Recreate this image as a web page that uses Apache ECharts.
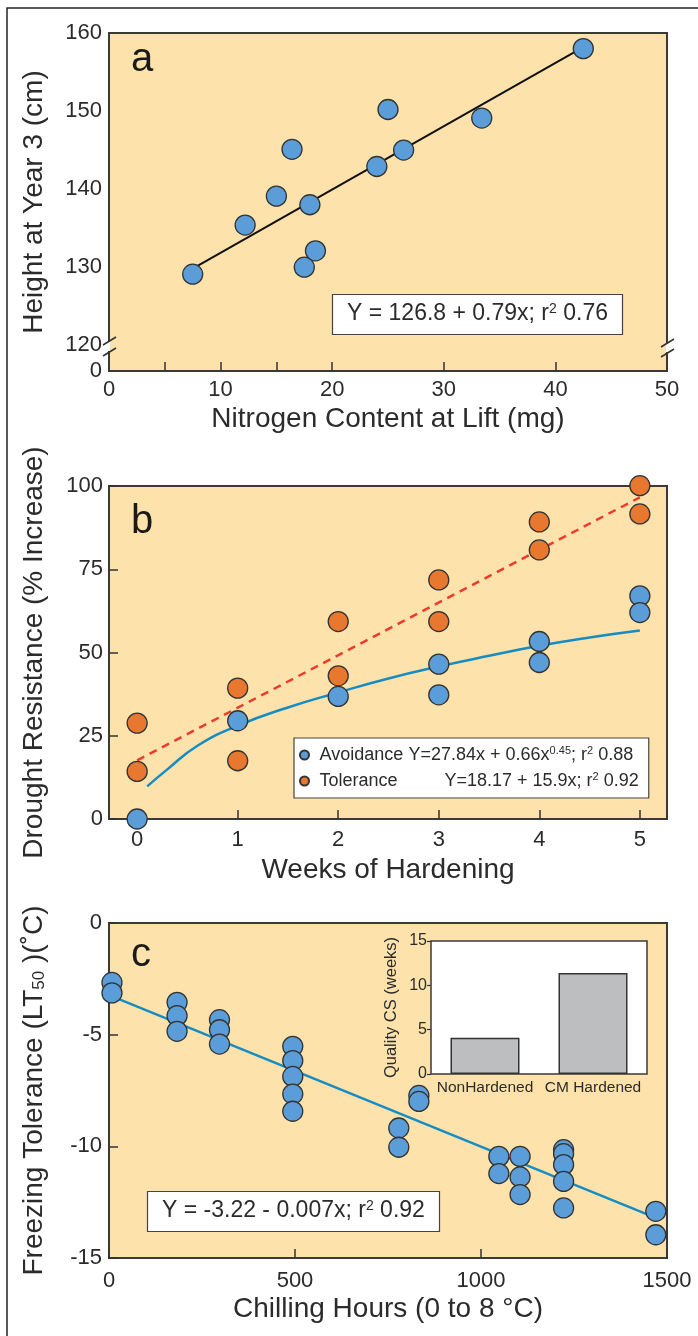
<!DOCTYPE html>
<html>
<head>
<meta charset="utf-8">
<script src="https://cdn.jsdelivr.net/npm/echarts@6/dist/echarts.min.js"></script>
<style>
  html, body { margin: 0; padding: 0; background: #fff; }
  #main { width: 698px; height: 1336px; }
</style>
</head>
<body>
<div id="main"></div>
<script>
// panel a: nitrogen vs height
const aNitrogen = [7.5, 12.2, 15.0, 16.4, 18.0, 17.5, 18.5, 24.0, 25.0, 26.4, 33.4, 42.5];
const aHeight = [129.1, 135.4, 139.1, 145.1, 138.0, 130.0, 132.1, 142.9, 150.2, 145.0, 149.1, 158.0];
const aFitX = [7.5, 42.5];
const aFitY = [129.8, 158.2];
const aYTicks = [116.7, 120, 130, 140, 150, 160];
const aXMinorTicks = [5, 10, 15, 20, 30, 40];

// panel b: weeks of hardening
const bTolWeeks = [0, 0, 1, 1, 2, 2, 3, 3, 4, 4, 5, 5];
const bTol = [28.8, 14.3, 39.3, 17.5, 59.3, 43.0, 71.8, 59.3, 89.2, 80.8, 100.1, 91.6];
const bAvoidWeeks = [0, 1, 2, 3, 3, 4, 4, 5, 5];
const bAvoid = [0, 29.5, 36.8, 46.5, 37.3, 53.3, 47.0, 67.0, 62.0];
const bTolFitX = [0, 5];
const bTolFitY = [17.6, 96.6];
const bAvoidFitX = [0.1, 0.3, 0.6, 1, 1.5, 2, 2.5, 3, 3.5, 4, 4.5, 5];
const bAvoidFitY = [9.8, 14.9, 22.0, 28.0, 33.5, 38.0, 42.2, 45.8, 49.0, 52.0, 54.5, 56.6];
const bWeekTicks = [0, 1, 2, 3, 4, 5];

// panel c: chilling hours vs LT50
const cHours = [8, 8, 183, 183, 183, 297, 297, 297, 494, 494, 494, 494, 494, 833, 833, 779, 779,
  1048, 1048, 1105, 1105, 1105, 1222, 1222, 1222, 1222, 1222, 1470, 1470];
const cLT50 = [-2.66, -3.13, -3.55, -4.15, -4.85, -4.33, -4.78, -5.42, -5.52, -6.16, -6.87, -7.66, -8.43,
  -7.72, -7.99, -9.18, -10.04, -10.45, -11.22, -10.45, -11.37, -12.16, -10.15, -10.33, -10.82, -11.57,
  -12.76, -12.91, -13.96];
const cFitX = [10, 1470];
const cFitY = [-3.3, -13.2];

// inset
const insetCats = ['NonHardened', 'CM Hardened'];
const insetWeeks = [4.1, 11.4];

const zip = (xs, ys) => xs.map((x, i) => [x, ys[i]]);

const BG = '#FDE3AB';
const BLUE = '#5B9DD8';
const ORANGE = '#E8772F';
const TEAL = '#178CC3';
const INK = '#2b2b2b';
const FONT = '"Liberation Sans", Arial, sans-serif';

const chart = echarts.init(document.getElementById('main'));

const plain = v => String(v);
const tickLabel = { fontSize: 22, color: INK, fontFamily: FONT, formatter: plain };
const nameStyle = { fontSize: 28, color: INK, fontFamily: FONT };
const noLine = { show: false, onZero: false };
const eqRich = {
  t: { fontSize: 23, fontWeight: 'normal', color: INK, fontFamily: FONT, lineHeight: 24 },
  s: { fontSize: 14, fontWeight: 'normal', color: INK, fontFamily: FONT, verticalAlign: 'top', lineHeight: 24 }
};
const letterStyle = { fontSize: 40, fontWeight: 'normal', color: '#1a1a1a', fontFamily: FONT };

function panelGrid(top, height) {
  return {
    left: 109, top: top, width: 558, height: height,
    show: true, backgroundColor: BG, borderColor: '#3a3a3a', borderWidth: 2,
    outerBoundsMode: 'none', containLabel: false
  };
}

chart.setOption({
  animation: false,
  textStyle: { fontFamily: FONT },
  grid: [
    panelGrid(33, 338),
    panelGrid(486, 333),
    panelGrid(923, 335),
    {
      left: 431, top: 941, width: 216, height: 133, z: 1,
      show: true, backgroundColor: '#fff', borderColor: '#3a3a3a', borderWidth: 1.5,
      outerBoundsMode: 'none', containLabel: false
    }
  ],
  title: [
    { text: 'a', left: 131, top: 40, padding: 0, textStyle: letterStyle },
    { text: 'b', left: 131, top: 502, padding: 0, textStyle: letterStyle },
    { text: 'c', left: 131, top: 935, padding: 0, textStyle: letterStyle },
    {
      text: '{t|Y = 126.8 + 0.79x; r}{s|2}{t| 0.76}',
      left: 332, top: 294, padding: [8, 15, 9, 15],
      backgroundColor: '#fff', borderColor: '#444', borderWidth: 1.2,
      textStyle: { fontWeight: 'normal', rich: eqRich }
    },
    {
      text: '{t|Y = -3.22 - 0.007x; r}{s|2}{t| 0.92}',
      left: 147, top: 1191, padding: [8, 15, 9, 15],
      backgroundColor: '#fff', borderColor: '#444', borderWidth: 1.2,
      textStyle: { fontWeight: 'normal', rich: eqRich }
    }
  ],
  legend: {
    data: ['Avoidance', 'Tolerance'],
    orient: 'vertical',
    left: 294, top: 738,
    icon: 'circle',
    itemWidth: 20, itemHeight: 9, itemGap: 6,
    padding: [7, 10, 7, 5],
    backgroundColor: '#fff', borderColor: '#444', borderWidth: 1.2, borderRadius: 0,
    selectedMode: false,
    formatter: function (name) {
      if (name === 'Avoidance') {
        return '{n1|Avoidance}{e|Y=27.84x + 0.66x}{s|0.45}{e|; r}{s|2}{e| 0.88}';
      }
      return '{n2|Tolerance}{e|Y=18.17 + 15.9x; r}{s|2}{e| 0.92}';
    },
    textStyle: {
      fontSize: 18, color: INK, lineHeight: 20,
      rich: {
        n1: { fontSize: 18, color: INK, width: 89, lineHeight: 20 },
        n2: { fontSize: 18, color: INK, width: 125, lineHeight: 20 },
        e: { fontSize: 18, color: INK, lineHeight: 20 },
        s: { fontSize: 11, color: INK, verticalAlign: 'top', lineHeight: 20 }
      }
    }
  },
  xAxis: [
    {
      gridIndex: 0, type: 'value', min: 0, max: 50, interval: 10,
      axisLine: noLine, splitLine: { show: false },
      axisTick: { show: true, inside: true, length: 9, customValues: aXMinorTicks, lineStyle: { color: '#333', width: 1.5 } },
      axisLabel: Object.assign({}, tickLabel, { margin: 8 }),
      name: 'Nitrogen Content at Lift (mg)', nameLocation: 'middle', nameGap: 34, nameTextStyle: nameStyle
    },
    {
      gridIndex: 1, type: 'value', min: -0.28, max: 5.27,
      axisLine: noLine, splitLine: { show: false },
      axisTick: { show: true, inside: true, length: 9, customValues: bWeekTicks, lineStyle: { color: '#333', width: 1.5 } },
      axisLabel: Object.assign({}, tickLabel, { margin: 10, customValues: bWeekTicks }),
      name: 'Weeks of Hardening', nameLocation: 'middle', nameGap: 37, nameTextStyle: nameStyle
    },
    {
      gridIndex: 2, type: 'value', min: 0, max: 1500, interval: 500,
      axisLine: noLine, splitLine: { show: false },
      axisTick: { show: true, inside: true, length: 9, lineStyle: { color: '#333', width: 1.5 } },
      axisLabel: Object.assign({}, tickLabel, { margin: 12 }),
      name: 'Chilling Hours (0 to 8 °C)', nameLocation: 'middle', nameGap: 37, nameTextStyle: nameStyle
    },
    {
      gridIndex: 3, type: 'category', data: insetCats,
      axisLine: noLine, axisTick: { show: false }, splitLine: { show: false },
      axisLabel: { fontSize: 15.5, color: INK, margin: 6, interval: 0, fontFamily: FONT }
    }
  ],
  yAxis: [
    {
      gridIndex: 0, type: 'value', min: 116.7, max: 160,
      axisLine: noLine, splitLine: { show: false }, axisTick: { show: false },
      axisLabel: Object.assign({}, tickLabel, {
        margin: 7, customValues: aYTicks,
        formatter: function (v) { return v < 119 ? '0' : String(Math.round(v)); }
      }),
      name: 'Height at Year 3 (cm)', nameLocation: 'middle', nameGap: 61, nameTextStyle: nameStyle
    },
    {
      gridIndex: 1, type: 'value', min: 0, max: 100, interval: 25,
      axisLine: noLine, splitLine: { show: false },
      axisTick: { show: true, inside: true, length: 9, lineStyle: { color: '#333', width: 1.5 } },
      axisLabel: Object.assign({}, tickLabel, { margin: 6 }),
      name: 'Drought Resistance (% Increase)', nameLocation: 'middle', nameGap: 61, nameTextStyle: nameStyle
    },
    {
      gridIndex: 2, type: 'value', min: -15, max: 0, interval: 5,
      axisLine: noLine, splitLine: { show: false },
      axisTick: { show: true, inside: true, length: 9, lineStyle: { color: '#333', width: 1.5 } },
      axisLabel: Object.assign({}, tickLabel, { margin: 7 }),
      name: 'Freezing Tolerance (LT{sub|50} )(˚C)', nameLocation: 'middle', nameGap: 61,
      nameTextStyle: Object.assign({
        rich: { sub: { fontSize: 17, color: INK, fontFamily: FONT, verticalAlign: 'bottom', padding: [8, 0, 0, 0] } }
      }, nameStyle)
    },
    {
      gridIndex: 3, type: 'value', min: 0, max: 15, interval: 5,
      axisLine: noLine, splitLine: { show: false },
      axisTick: { show: true, inside: false, length: 4, lineStyle: { color: '#333', width: 1.2 } },
      axisLabel: { fontSize: 16, color: INK, margin: 4, fontFamily: FONT },
      name: 'Quality CS (weeks)', nameLocation: 'middle', nameGap: 31,
      nameTextStyle: { fontSize: 16.5, color: INK, fontFamily: FONT }
    }
  ],
  series: [
    {
      name: 'a fit', type: 'line', xAxisIndex: 0, yAxisIndex: 0, data: zip(aFitX, aFitY),
      showSymbol: false, lineStyle: { color: '#111', width: 2 }, z: 2, silent: true
    },
    {
      name: 'Height', type: 'scatter', xAxisIndex: 0, yAxisIndex: 0, data: zip(aNitrogen, aHeight),
      symbolSize: 20, clip: false, z: 3,
      itemStyle: { color: BLUE, borderColor: '#333', borderWidth: 1.3, opacity: 1 }
    },
    {
      name: 'Tolerance fit', type: 'line', xAxisIndex: 1, yAxisIndex: 1, data: zip(bTolFitX, bTolFitY),
      showSymbol: false, lineStyle: { color: '#EE3A2C', width: 2.5, type: [8, 6] }, z: 2, silent: true
    },
    {
      name: 'Avoidance fit', type: 'line', xAxisIndex: 1, yAxisIndex: 1, data: zip(bAvoidFitX, bAvoidFitY),
      showSymbol: false, smooth: true, lineStyle: { color: TEAL, width: 2.5 }, z: 2, silent: true
    },
    {
      name: 'Tolerance', type: 'scatter', xAxisIndex: 1, yAxisIndex: 1, data: zip(bTolWeeks, bTol),
      symbolSize: 20, clip: false, z: 3,
      itemStyle: { color: ORANGE, borderColor: '#333', borderWidth: 1.3, opacity: 1 }
    },
    {
      name: 'Avoidance', type: 'scatter', xAxisIndex: 1, yAxisIndex: 1, data: zip(bAvoidWeeks, bAvoid),
      symbolSize: 20, clip: false, z: 3,
      itemStyle: { color: BLUE, borderColor: '#333', borderWidth: 1.3, opacity: 1 }
    },
    {
      name: 'c fit', type: 'line', xAxisIndex: 2, yAxisIndex: 2, data: zip(cFitX, cFitY),
      showSymbol: false, lineStyle: { color: TEAL, width: 2.5 }, z: 2, silent: true
    },
    {
      name: 'LT50', type: 'scatter', xAxisIndex: 2, yAxisIndex: 2, data: zip(cHours, cLT50),
      symbolSize: 20, clip: false, z: 3,
      itemStyle: { color: BLUE, borderColor: '#333', borderWidth: 1.3, opacity: 1 }
    },
    {
      name: 'Quality CS', type: 'bar', xAxisIndex: 3, yAxisIndex: 3, data: insetWeeks,
      barWidth: 69, z: 3,
      itemStyle: { color: '#BDBEC0', borderColor: '#333', borderWidth: 1.5 }
    }
  ],
  graphic: [
    // outer frame (top and left edges visible)
    { type: 'rect', shape: { x: 7, y: 8, width: 760, height: 1400 }, style: { fill: 'none', stroke: '#222', lineWidth: 1.5 }, z: 100 },
    // axis break on the height axis
    { type: 'rect', shape: { x: 103, y: 342, width: 7, height: 9 }, style: { fill: '#fff' }, z: 100 },
    { type: 'line', shape: { x1: 103, y1: 345, x2: 116, y2: 337 }, style: { stroke: '#333', lineWidth: 1.5 }, z: 101 },
    { type: 'line', shape: { x1: 103, y1: 356, x2: 116, y2: 348 }, style: { stroke: '#333', lineWidth: 1.5 }, z: 101 },
    { type: 'rect', shape: { x: 666, y: 343, width: 8, height: 9 }, style: { fill: '#fff' }, z: 100 },
    { type: 'line', shape: { x1: 661, y1: 347, x2: 674, y2: 339 }, style: { stroke: '#333', lineWidth: 1.5 }, z: 101 },
    { type: 'line', shape: { x1: 661, y1: 357, x2: 674, y2: 349 }, style: { stroke: '#333', lineWidth: 1.5 }, z: 101 }
  ]
});
</script>
</body>
</html>
